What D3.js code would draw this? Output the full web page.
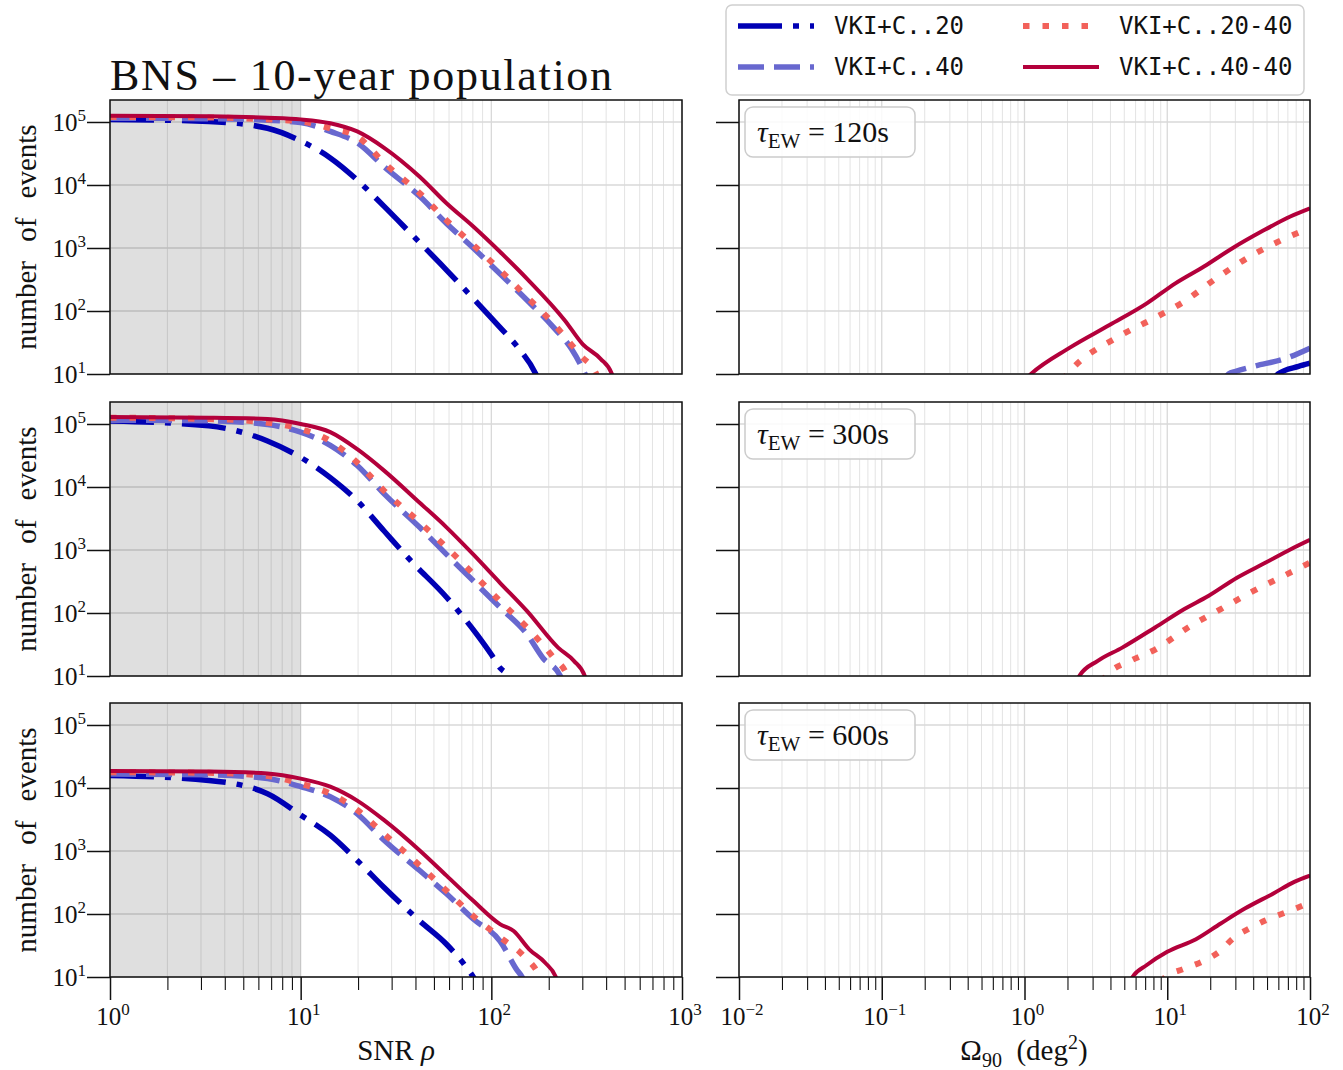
<!DOCTYPE html>
<html><head><meta charset="utf-8">
<script src="https://cdn.jsdelivr.net/npm/d3@7"></script>
<style>body{margin:0;background:#fff}svg{display:block}</style>
</head><body>
<script>
// ---------------- DATA ----------------
const seriesNames = ["VKI+C..20", "VKI+C..40", "VKI+C..20-40", "VKI+C..40-40"];
const tauLabels = ["120s", "300s", "600s"];
const snrTicks = [1, 10, 100, 1000];
const omegaTicks = [0.01, 0.1, 1, 10, 100];
const countTicks = [1e1, 1e2, 1e3, 1e4, 1e5];

// SNR panels: [rho, number of events]
const snr120_20 = [[1,110000],[3.3,102000],[6.7,79400],[10,50000],[14.3,26900],[19.8,12000],[27.4,4570],[37.8,1700],[58.2,447],[80.4,158],[111,55],[138,26.3],[171,10],[180,7]];
const snr120_40 = [[1,115000],[3.3,113000],[6.7,107000],[10,97700],[14.3,70800],[19.8,46800],[27.4,19500],[42.1,6610],[58.2,2450],[80.4,1000],[111,389],[154,148],[212,55],[263,25.1],[310,10],[320,8]];
const snr120_2040 = [[1,120000],[3.3,118000],[6.7,110000],[10,102000],[14.3,79400],[19.8,58900],[27.4,22400],[42.1,7410],[58.2,2750],[80.4,1120],[111,447],[154,166],[212,63.1],[294,19.5],[355,10],[365,8]];
const snr120_4040 = [[1,126000],[3.3,123000],[6.7,117000],[10,110000],[14.3,95500],[19.8,70800],[27.4,38900],[42.1,13500],[58.2,5130],[80.4,2190],[111,871],[154,324],[243,70.8],[302,29.5],[374,17.4],[429,10],[440,8]];

const snr300_20 = [[1,112000],[3.3,93300],[6.7,53700],[10,29500],[14.3,14100],[19.8,6030],[27.4,2000],[37.8,676],[58.2,178],[84.9,43.7],[100,21.9],[111,13.5],[123,10],[128,8]];
const snr300_40 = [[1,115000],[3.3,112000],[6.7,98000],[10,74100],[14.3,45700],[19.8,21900],[27.4,7760],[42.1,2290],[58.2,851],[80.4,324],[111,123],[154,45.7],[186,19.5],[230,10],[236,8]];
const snr300_2040 = [[1,126000],[3.3,120000],[6.7,105000],[10,83200],[14.3,53700],[19.8,24500],[27.4,8710],[42.1,2750],[58.2,1100],[80.4,417],[111,155],[154,58.9],[212,19.5],[250,10],[256,8]];
const snr300_4040 = [[1,129000],[3.3,126000],[6.7,120000],[10,100000],[14.3,74100],[19.8,39800],[27.4,18200],[42.1,5620],[58.2,2290],[80.4,851],[111,302],[154,107],[224,28.2],[271,17.4],[309,10],[316,8]];

const snr600_20 = [[1,15800],[3.3,13200],[6.7,8130],[10,3720],[14.3,1780],[19.8,708],[27.4,263],[42.1,77.6],[58.2,33.1],[72.1,15.8],[80.4,10],[84,8]];
const snr600_40 = [[1,16600],[3.3,16200],[6.7,14100],[10,10500],[14.3,7240],[19.8,3890],[27.4,1480],[42.1,490],[58.2,209],[80.4,83.2],[111,37.2],[137,12.6],[145,10],[150,8]];
const snr600_2040 = [[1,17800],[3.3,17400],[6.7,15500],[10,11700],[14.3,8130],[19.8,4470],[27.4,1860],[42.1,589],[58.2,234],[80.4,93.3],[111,42.7],[145,22.9],[180,10],[186,8]];
const snr600_4040 = [[1,18600],[3.3,18200],[6.7,17000],[10,14100],[14.3,10500],[19.8,6310],[27.4,3090],[42.1,1020],[58.2,407],[80.4,162],[111,69.2],[131,53.7],[158,27.5],[191,17],[218,10],[224,8]];

// Sky-area panels: [Omega90 (deg^2), number of events]
const sky120_20 = [[55,8],[59.7,10],[83.2,13.2],[100,14.8]];
const sky120_40 = [[25,8],[26.9,10],[30.2,11],[40.2,13.2],[68.2,17.8],[100,25.7]];
const sky120_2040 = [[1.85,8],[2.0,10],[4.53,38.9],[7.69,72.4],[13.1,141],[22.1,331],[37.6,724],[63.8,1350],[100,2090]];
const sky120_4040 = [[1.0,8],[1.11,10],[2.05,25.7],[3.97,60.3],[7.19,132],[11.4,275],[18.2,513],[28.8,1000],[45.7,1820],[72.8,3160],[100,4270]];

const sky300_20 = [];
const sky300_40 = [];
const sky300_2040 = [[3.5,8],[3.72,10],[5.52,17.4],[8.22,26.3],[14.0,58.9],[23.7,115],[40.2,224],[68.2,407],[100,631]];
const sky300_4040 = [[2.3,8],[2.42,10],[3.26,17.4],[4.84,28.2],[8.22,58.9],[13.1,115],[19.4,186],[30.8,363],[49.0,631],[72.8,1020],[100,1450]];

const sky600_20 = [];
const sky600_40 = [];
const sky600_2040 = [[9.3,8],[9.68,10],[13.1,13.5],[18.2,18.2],[23.7,26.3],[28.8,40.7],[37.6,58.9],[49.0,79.4],[68.2,107],[100,151]];
const sky600_4040 = [[5.4,8],[5.71,10],[7.19,15.5],[10,25.1],[15.9,39.8],[23.7,70.8],[35.2,123],[55.8,214],[77.6,324],[100,407]];

// ---------------- STYLE ----------------
const styles = [
  {color:"#0000b4", width:5.5, dash:"44,11,6,11"},
  {color:"#6868cf", width:5.5, dash:"26,10"},
  {color:"#f2615a", width:6,   dash:"6.5,13"},
  {color:"#b3003b", width:4,   dash:null}
];
const serif = "'Liberation Serif', 'DejaVu Serif', serif";

const W = 1343, H = 1070;
const svg = d3.select("body").append("svg").attr("width", W).attr("height", H);

const rows = [{top:100,bottom:374},{top:402,bottom:676},{top:703,bottom:977}];
const leftX = [110, 682], rightX = [739, 1310];
const yTopVal = Math.pow(10, 5.349);

const snrData = [
  [snr120_20, snr120_40, snr120_2040, snr120_4040],
  [snr300_20, snr300_40, snr300_2040, snr300_4040],
  [snr600_20, snr600_40, snr600_2040, snr600_4040]
];
const skyData = [
  [sky120_20, sky120_40, sky120_2040, sky120_4040],
  [sky300_20, sky300_40, sky300_2040, sky300_4040],
  [sky600_20, sky600_40, sky600_2040, sky600_4040]
];

function minorTicks(domain){
  const out = [];
  const lo = Math.round(Math.log10(domain[0])), hi = Math.round(Math.log10(domain[1]));
  for (let e = lo; e < hi; e++) for (let m = 2; m <= 9; m++) out.push(m*Math.pow(10,e));
  return out;
}

function supLabel(g, x, y, exp, anchor){
  const t = g.append("text").attr("x", x).attr("y", y)
    .attr("font-family", serif).attr("font-size", 25).attr("fill", "#111")
    .attr("text-anchor", anchor);
  t.append("tspan").text("10");
  t.append("tspan").attr("dy", -10).attr("font-size", 17).text(String(exp).replace("-", "\u2212"));
  return t;
}

let clipId = 0;
function panel(row, xr, xDomain, curves, isLeft, isBottom, tauIdx){
  const x = d3.scaleLog().domain(xDomain).range(xr);
  const y = d3.scaleLog().domain([10, yTopVal]).range([row.bottom, row.top]);
  const g = svg.append("g");
  g.append("g").selectAll("line").data(minorTicks(xDomain)).join("line")
    .attr("x1", d=>x(d)).attr("x2", d=>x(d)).attr("y1", row.top).attr("y2", row.bottom)
    .attr("stroke", "#e3e3e3").attr("stroke-width", 1);
  const majors = isLeft ? snrTicks : omegaTicks;
  g.append("g").selectAll("line").data(majors).join("line")
    .attr("x1", d=>x(d)).attr("x2", d=>x(d)).attr("y1", row.top).attr("y2", row.bottom)
    .attr("stroke", "#d9d9d9").attr("stroke-width", 1.3);
  g.append("g").selectAll("line").data(countTicks).join("line")
    .attr("x1", xr[0]).attr("x2", xr[1]).attr("y1", d=>y(d)).attr("y2", d=>y(d))
    .attr("stroke", "#d9d9d9").attr("stroke-width", 1.3);
  if (isLeft) {
    g.append("rect").attr("x", x(1)).attr("y", row.top).attr("width", x(10)-x(1))
      .attr("height", row.bottom-row.top).attr("fill", "#000").attr("fill-opacity", 0.125);
  }
  const cid = "clip" + (clipId++);
  svg.append("clipPath").attr("id", cid).append("rect")
    .attr("x", xr[0]).attr("y", row.top).attr("width", xr[1]-xr[0]).attr("height", row.bottom-row.top);
  const line = d3.line().x(d=>x(d[0])).y(d=>y(d[1])).curve(d3.curveMonotoneX);
  const cg = g.append("g").attr("clip-path", `url(#${cid})`);
  curves.forEach((data, i) => {
    if (!data.length) return;
    const s = styles[i];
    cg.append("path").attr("d", line(data)).attr("fill", "none")
      .attr("stroke", s.color).attr("stroke-width", s.width)
      .attr("stroke-dasharray", s.dash).attr("stroke-linejoin", "round");
  });
  g.append("rect").attr("x", xr[0]).attr("y", row.top).attr("width", xr[1]-xr[0])
    .attr("height", row.bottom-row.top).attr("fill", "none").attr("stroke", "#111").attr("stroke-width", 1.5);
  const ya = g.append("g").attr("transform", `translate(${xr[0]},0)`)
    .call(d3.axisLeft(y).tickValues(countTicks).tickSize(23).tickFormat(""));
  ya.select(".domain").remove();
  ya.selectAll("line").attr("stroke", "#111").attr("stroke-width", 1.5);
  if (isLeft) {
    countTicks.forEach(v => supLabel(g, 86, y(v)+9, Math.round(Math.log10(v)), "end"));
    g.append("text").attr("transform", `translate(36,${(row.top+row.bottom)/2}) rotate(-90)`)
      .attr("text-anchor", "middle").attr("font-family", serif).attr("font-size", 29)
      .attr("word-spacing", 12).attr("fill", "#111").text("number of events");
  }
  if (isBottom) {
    const xa = g.append("g").attr("transform", `translate(0,${row.bottom})`)
      .call(d3.axisBottom(x).tickValues(majors).tickSize(23).tickFormat(""));
    xa.select(".domain").remove();
    xa.selectAll("line").attr("stroke", "#111").attr("stroke-width", 1.5);
    const xm = g.append("g").attr("transform", `translate(0,${row.bottom})`)
      .call(d3.axisBottom(x).tickValues(minorTicks(xDomain)).tickSize(13).tickFormat(""));
    xm.select(".domain").remove();
    xm.selectAll("line").attr("stroke", "#111").attr("stroke-width", 1.1);
    majors.forEach(v => supLabel(g, x(v)+3, row.bottom+48, Math.round(Math.log10(v)), "middle"));
  }
  if (!isLeft) {
    const bx = xr[0]+6, by = row.top+7;
    g.append("rect").attr("x", bx).attr("y", by).attr("width", 170).attr("height", 50)
      .attr("rx", 8).attr("fill", "#fff").attr("fill-opacity", 0.85)
      .attr("stroke", "#cccccc").attr("stroke-width", 1.5);
    const t = g.append("text").attr("x", bx+12).attr("y", by+35)
      .attr("font-family", serif).attr("font-size", 30).attr("fill", "#111");
    t.append("tspan").attr("font-style", "italic").text("\u03c4");
    t.append("tspan").attr("dy", 6).attr("font-size", 21).text("EW");
    t.append("tspan").attr("dy", -6).text(" = " + tauLabels[tauIdx]);
  }
  return {x, y};
}

rows.forEach((row, i) => {
  panel(row, leftX, [1, 1000], snrData[i], true, i === 2, i);
  panel(row, rightX, [0.01, 100], skyData[i], false, i === 2, i);
});

const xl = svg.append("text").attr("x", 396).attr("y", 1060).attr("text-anchor", "middle")
  .attr("font-family", serif).attr("font-size", 29).attr("fill", "#111");
xl.append("tspan").text("SNR  ");
xl.append("tspan").attr("font-style", "italic").text("\u03c1");

const xr2 = svg.append("text").attr("x", 1024).attr("y", 1060).attr("text-anchor", "middle")
  .attr("font-family", serif).attr("font-size", 29).attr("fill", "#111");
xr2.append("tspan").text("\u03a9");
xr2.append("tspan").attr("dy", 7).attr("font-size", 20).text("90");
xr2.append("tspan").attr("dy", -7).text("\u00a0\u00a0(deg");
xr2.append("tspan").attr("dy", -11).attr("font-size", 20).text("2");
xr2.append("tspan").attr("dy", 11).text(")");

svg.append("text").attr("x", 110).attr("y", 90).attr("font-family", serif)
  .attr("font-size", 44).attr("fill", "#111").attr("textLength", 502)
  .attr("lengthAdjust", "spacing").text("BNS \u2013 10-year population");

const lg = svg.append("g");
lg.append("rect").attr("x", 726).attr("y", 5).attr("width", 578).attr("height", 90).attr("rx", 6)
  .attr("fill", "#fff").attr("stroke", "#d0d0d0").attr("stroke-width", 1.5);
const legPos = [
  {lx:738, tx:834, y:26}, {lx:738, tx:834, y:67},
  {lx:1023, tx:1119, y:26}, {lx:1023, tx:1119, y:67}
];
seriesNames.forEach((name, i) => {
  const p = legPos[i], s = styles[i];
  lg.append("line").attr("x1", p.lx).attr("x2", p.lx+76).attr("y1", p.y).attr("y2", p.y)
    .attr("stroke", s.color).attr("stroke-width", s.width).attr("stroke-dasharray", s.dash);
  lg.append("text").attr("x", p.tx).attr("y", p.y+8).attr("font-family", "'DejaVu Sans Mono', monospace")
    .attr("font-size", 24).attr("fill", "#111").text(name);
});
</script>
</body></html>
